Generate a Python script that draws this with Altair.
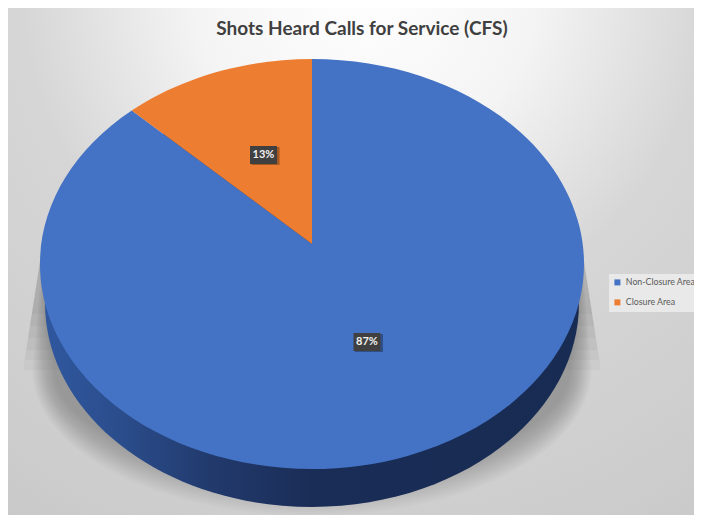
import math
import altair as alt

# ---- values ----
categories = ["Non-Closure Area", "Closure Area"]
shares = [87.4, 12.6]
colors = ["#4472C4", "#ED7D31"]
chart_title = "Shots Heard Calls for Service (CFS)"

# ---- layout of the perspective pie (px inside the chart) ----
W, H = 686, 507
CX, CY = 304, 256          # centre of the top ellipse
RX, RY = 272, 205
APEX = 0.0976              # perspective shift of the true centre
DEPTH = 39
label_pos = {"Non-Closure Area": (359, 334), "Closure Area": (255.5, 147)}
SIZE = (2 * RX) ** 2


def fmt(v):
    return f"{v / RX:.5f}"


def rim(t):
    """Point of the top rim for clock angle t, seen in perspective."""
    u, v = math.sin(t), math.cos(t)
    d = 1 + APEX * v
    return (u * math.sqrt(1 - APEX ** 2) / d * RX, -(v + APEX) / d * RY)


def slice_path(t0, t1):
    x0, y0 = rim(t0)
    x1, y1 = rim(t1)
    large = 1 if t1 - t0 > math.pi else 0
    return (f"M0,{fmt(-APEX * RY)}L{fmt(x0)},{fmt(y0)}"
            f"A{fmt(RX)},{fmt(RY)} 0 {large} 1 {fmt(x1)},{fmt(y1)}Z")


def ellipse_path(rx, ry, cy):
    return (f"M{fmt(-rx)},{fmt(cy)}A{fmt(rx)},{fmt(ry)} 0 1 1 {fmt(rx)},{fmt(cy)}"
            f"A{fmt(rx)},{fmt(ry)} 0 1 1 {fmt(-rx)},{fmt(cy)}Z")


def shadow_path(sx, ry):
    top = -30
    side = 106
    return (f"M{fmt(-268)},{fmt(top)}L{fmt(-sx)},{fmt(side)}"
            f"A{fmt(sx)},{fmt(ry)} 0 0 0 {fmt(sx)},{fmt(side)}"
            f"L{fmt(268)},{fmt(top)}Z")


def wedge_path(tip):
    top = -30
    sx = 268 + (tip - top) * 21 / 136
    return (f"M{fmt(-268)},{fmt(top)}L{fmt(-sx)},{fmt(tip)}L{fmt(-230)},{fmt(tip)}"
            f"L{fmt(230)},{fmt(tip)}L{fmt(sx)},{fmt(tip)}L{fmt(268)},{fmt(top)}Z")


total = sum(shares)
rows = []
start = 0.0
for name, share, in zip(categories, shares):
    end = start + share / total * 2 * math.pi
    rows.append({"category": name, "share": share, "path": slice_path(start, end),
                 "label": f"{round(share)}%",
                 "lx": label_pos[name][0], "ly": label_pos[name][1]})
    start = end

bg = alt.Chart(alt.Data(values=[{"a": 1}])).mark_rect(
    fill=alt.RadialGradient(
        gradient="radial", x1=0.52, y1=0.1, r1=0, x2=0.52, y2=0.1, r2=1,
        stops=[alt.GradientStop(offset=0, color="#ffffff"),
               alt.GradientStop(offset=0.25, color="#f4f4f4"),
               alt.GradientStop(offset=0.5, color="#d6d6d6"),
               alt.GradientStop(offset=0.85, color="#cccccc"),
               alt.GradientStop(offset=1, color="#c6c6c6")])
).encode(x=alt.value(0), x2=alt.value(W), y=alt.value(0), y2=alt.value(H))

shadow_paths = [wedge_path(t) for t in (50, 62, 74, 86, 96, 106)] * 2
shadow_paths += [shadow_path(258 + (r - 106) * 0.55, r) for r in range(106, 147, 2)]
shadow = alt.Chart(alt.Data(values=[{"path": p} for p in shadow_paths])).mark_point(
    filled=True, fill="#000000", opacity=0.012, strokeWidth=0
).encode(x=alt.value(CX), y=alt.value(CY), size=alt.value(SIZE),
         shape=alt.Shape("path:N", scale=None, legend=None))

wall = alt.Chart(alt.Data(values=[{"path": ellipse_path(267, 204, DEPTH)}])).mark_point(
    filled=True, strokeWidth=0, opacity=1,
    fill=alt.LinearGradient(
        gradient="linear", x1=0, y1=0, x2=1, y2=0,
        stops=[alt.GradientStop(offset=0, color="#30589F"),
               alt.GradientStop(offset=0.15, color="#2A4C8A"),
               alt.GradientStop(offset=0.32, color="#21396B"),
               alt.GradientStop(offset=0.5, color="#1A2D57"),
               alt.GradientStop(offset=1, color="#182B52")])
).encode(x=alt.value(CX), y=alt.value(CY), size=alt.value(SIZE),
         shape=alt.Shape("path:N", scale=None, legend=None))

slices = alt.Chart(alt.Data(values=rows)).mark_point(
    filled=True, strokeWidth=0, opacity=1
).encode(
    x=alt.value(CX), y=alt.value(CY), size=alt.value(SIZE),
    shape=alt.Shape("path:N", scale=None, legend=None),
    color=alt.Color("category:N", scale=alt.Scale(domain=categories, range=colors),
                    title=None,
                    legend=alt.Legend(orient="none", legendX=601, legendY=266, symbolType="square",
                                      symbolSize=36, symbolOpacity=1, symbolStrokeWidth=0,
                                      labelFont="Lato", labelFontSize=8.8, labelColor="#595959",
                                      labelLimit=200, rowPadding=10, padding=4,
                                      fillColor="#e9e9e9")))

box_shadow = alt.Chart(alt.Data(values=rows)).mark_rect(fill="#000000", opacity=0.3).encode(
    x=alt.X("sx:Q", scale=None), x2="sx2:Q", y=alt.Y("sy:Q", scale=None), y2="sy2:Q"
).transform_calculate(sx="datum.lx - 12", sx2="datum.lx + 16", sy="datum.ly - 8", sy2="datum.ly + 10")

box = alt.Chart(alt.Data(values=rows)).mark_rect(fill="#404040").encode(
    x=alt.X("bx:Q", scale=None), x2="bx2:Q", y=alt.Y("by:Q", scale=None), y2="by2:Q"
).transform_calculate(bx="datum.lx - 13.5", bx2="datum.lx + 13.5", by="datum.ly - 9", by2="datum.ly + 9")

labels = alt.Chart(alt.Data(values=rows)).mark_text(
    font="Lato", fontWeight="bold", fontSize=11, color="#f2f2f2", align="center", baseline="middle"
).encode(x=alt.X("lx:Q", scale=None), y=alt.Y("ly:Q", scale=None), text="label:N")

chart = alt.layer(bg, shadow, wall, slices, box_shadow, box, labels).properties(
    width=W, height=H,
    title=alt.TitleParams(chart_title, font="Lato", fontWeight="bold", fontSize=19, color="#404040",
                          anchor="middle", dx=11, dy=35, frame="group"),
    autosize=alt.AutoSizeParams(type="none"),
    padding=0,
).configure_view(stroke=None).resolve_scale(x="independent", y="independent")

chart.save("out.html", embed_options={"renderer": "svg", "actions": False})
